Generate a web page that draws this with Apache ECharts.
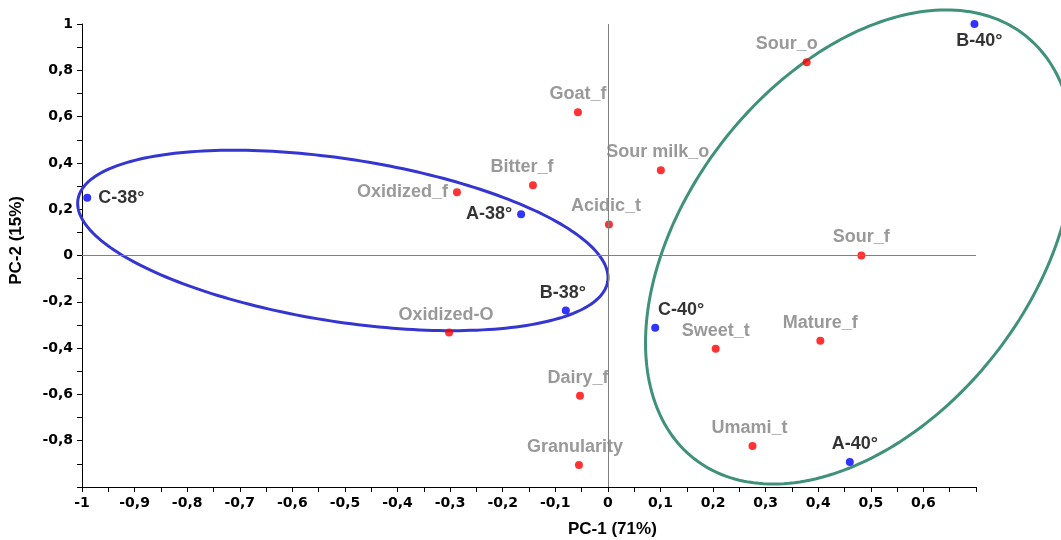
<!DOCTYPE html>
<html><head><meta charset="utf-8">
<script src="https://cdn.jsdelivr.net/npm/echarts@6/dist/echarts.min.js"></script>
<style>html,body{margin:0;padding:0;background:#fff}#c{width:1061px;height:540px}</style>
</head><body><div id="c"></div>
<script>
// ---- data ----
const sampleNames = ['C-38°', 'A-38°', 'B-38°', 'C-40°', 'A-40°', 'B-40°'];
const sampleX = [-0.99, -0.165, -0.08, 0.09, 0.46, 0.697];
const sampleY = [0.25, 0.178, -0.238, -0.312, -0.892, 1.0];

const attrNames = ['Goat_f', 'Bitter_f', 'Oxidized_f', 'Sour milk_o', 'Acidic_t', 'Sour_o', 'Sour_f',
  'Oxidized-O', 'Mature_f', 'Sweet_t', 'Dairy_f', 'Umami_t', 'Granularity'];
const attrX = [-0.057, -0.1425, -0.287, 0.1007, 0.002, 0.378, 0.482, -0.302, 0.404, 0.205, -0.053, 0.275, -0.055];
const attrY = [0.619, 0.303, 0.273, 0.368, 0.134, 0.835, 0.0, -0.333, -0.368, -0.403, -0.606, -0.823, -0.905];

const xRange = [-1, 0.7];
const yRange = [-1, 1];
const xTickStep = [0.1];
const yTickStep = [0.2];
const axisTitles = ['PC-1 (71%)', 'PC-2 (15%)'];

// ellipse outlines (center, two conjugate semi-axis vectors, in data units)
const blueCenter = [-0.504, 0.065];
const blueU = [0.5037, -0.1765];
const blueV = [-0.0234, -0.3474];
const greenCenter = [0.4786, 0.0368];
const greenU = [-0.3149, -0.9139];
const greenV = [0.2579, -0.4619];

// ---- styling (kept apart from data) ----
const FONT = 'Liberation Sans, Arial, sans-serif';
const TICKFONT = 'DejaVu Sans, sans-serif';
const labelPlacement = {
  'C-38°': {position: 'right', distance: 7},
  'A-38°': {position: 'left', distance: 5},
  'B-38°': {position: 'top', distance: 5, offset: [-3, 0]},
  'C-40°': {position: 'top', distance: 5, offset: [26, 0]},
  'A-40°': {position: 'top', distance: 5, offset: [5, 0]},
  'B-40°': {position: 'bottom', distance: 4, offset: [5, 0]},
  'Goat_f': {position: 'top', distance: 5},
  'Bitter_f': {position: 'top', distance: 5, offset: [-11, 0]},
  'Oxidized_f': {position: 'left', distance: 5},
  'Sour milk_o': {position: 'top', distance: 5, offset: [-3, 0]},
  'Acidic_t': {position: 'top', distance: 5, offset: [-3, 0]},
  'Sour_o': {position: 'top', distance: 5, offset: [-20, 0]},
  'Sour_f': {position: 'top', distance: 5},
  'Oxidized-O': {position: 'top', distance: 5, offset: [-3, 0]},
  'Mature_f': {position: 'top', distance: 5},
  'Sweet_t': {position: 'top', distance: 5},
  'Dairy_f': {position: 'top', distance: 5, offset: [-2, 0]},
  'Umami_t': {position: 'top', distance: 5, offset: [-3, 0]},
  'Granularity': {position: 'top', distance: 5, offset: [-4, 0]}
};

function ellipsePts(c, u, v) {
  const pts = [];
  for (let i = 0; i <= 240; i++) {
    const t = i / 240 * Math.PI * 2;
    pts.push([c[0] + u[0] * Math.cos(t) + v[0] * Math.sin(t), c[1] + u[1] * Math.cos(t) + v[1] * Math.sin(t)]);
  }
  return pts;
}
function fmt(v) {
  const s = String(+(+v).toFixed(2));
  return s.replace('.', ',');
}
function pointData(names, xs, ys, color) {
  return names.map((n, i) => {
    const p = labelPlacement[n] || {position: 'top'};
    return {
      name: n, value: [xs[i], ys[i]],
      label: Object.assign({show: true, formatter: '{b}', color: color, fontWeight: 'bold', fontSize: 18, fontFamily: FONT}, p)
    };
  });
}
function ellipseSeries(pts, color) {
  return {
    type: 'custom', clip: false, silent: true, z: 2,
    data: [0],
    renderItem: function (params, api) {
      return {
        type: 'polyline',
        shape: {points: pts.map(p => api.coord(p))},
        style: {stroke: color, lineWidth: 3, fill: null}
      };
    }
  };
}

const chart = echarts.init(document.getElementById('c'), null, {renderer: 'canvas'});
const axisCommon = {
  type: 'value',
  axisLine: {show: true, onZero: false, lineStyle: {color: '#000', width: 1}},
  axisTick: {show: true, length: 5, lineStyle: {color: '#000'}},
  minorTick: {show: true, splitNumber: 2, length: 5, lineStyle: {color: '#000'}},
  splitLine: {show: false},
  minorSplitLine: {show: false}
};
chart.setOption({
  backgroundColor: '#fff',
  animation: false,
  grid: {left: 82, right: 85, top: 24, bottom: 53, containLabel: false, outerBoundsMode: 'none'},
  xAxis: Object.assign({}, axisCommon, {
    min: xRange[0], max: xRange[1], interval: xTickStep[0],
    axisLabel: {formatter: fmt, color: '#000', fontWeight: 'bold', fontSize: 14, fontFamily: TICKFONT, margin: 9, showMaxLabel: false}
  }),
  yAxis: Object.assign({}, axisCommon, {
    min: yRange[0], max: yRange[1], interval: yTickStep[0],
    axisLabel: {formatter: fmt, color: '#000', fontWeight: 'bold', fontSize: 14, fontFamily: TICKFONT, margin: 9, showMinLabel: false}
  }),
  graphic: [
    {type: 'text', left: 568, top: 521, style: {text: axisTitles[0], fill: '#000', font: 'bold 17px ' + FONT}},
    {type: 'text', left: 8, top: 196, rotation: Math.PI / 2, style: {text: axisTitles[1], fill: '#000', font: 'bold 17px ' + FONT}}
  ],
  series: [
    {
      type: 'scatter', data: [], silent: true, z: 1,
      markLine: {
        silent: true, symbol: 'none', animation: false,
        lineStyle: {color: '#808080', width: 1, type: 'solid'},
        label: {show: false},
        data: [{xAxis: 0}, {yAxis: 0}]
      }
    },
    ellipseSeries(ellipsePts(blueCenter, blueU, blueV), '#3535d2'),
    ellipseSeries(ellipsePts(greenCenter, greenU, greenV), '#3f9179'),
    {type: 'scatter', symbolSize: 8, itemStyle: {color: '#ff0000'}, z: 3,
      data: pointData(attrNames, attrX, attrY, '#7f7f7f')},
    {type: 'scatter', symbolSize: 8, itemStyle: {color: '#0000ff'}, z: 3,
      data: pointData(sampleNames, sampleX, sampleY, '#000')}
  ]
});
</script></body></html>
